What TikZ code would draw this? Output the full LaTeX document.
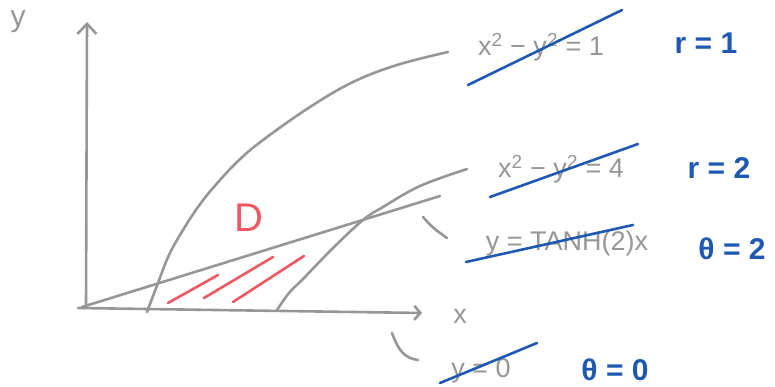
\documentclass[tikz,border=0pt]{standalone}
\usepackage{fontspec}
\setmainfont{Liberation Sans}
\usetikzlibrary{arrows.meta}

\definecolor{pencil}{RGB}{150,150,150}
\definecolor{ink}{RGB}{30,88,178}
\definecolor{redink}{RGB}{238,88,98}

\begin{document}
\begin{tikzpicture}[x=1pt, y=-1pt, line width=2.6pt, line cap=round, line join=round,
    sketch/.style={draw=pencil},
    strike/.style={draw=ink, line width=2.6pt},
    greytext/.style={text=pencil, inner sep=0pt, font=\fontsize{27}{32}\selectfont},
    bluetext/.style={text=ink, inner sep=0pt, font=\bfseries\fontsize{30}{36}\selectfont}]

  %% ════ axes ════
  \draw[sketch, -{Straight Barb[length=10pt,width=19pt]}] (86.0,308.0) -- (87.0,22.0);
  \draw[sketch, -{Straight Barb[length=6pt,width=14pt]}] (78.0,308.0) -- (422.0,313.0);
  \node[greytext, font=\fontsize{30}{36}\selectfont] (ylab) at (18.0,22.0) {y};
  \node[greytext] (xlab) at (460.0,316.0) {x};

  %% ════ curves ════
  % r = 1
  \draw[sketch] plot[smooth, tension=0.6] coordinates {
    (147.0,312.0) (158.0,283.0) (169.0,255.0) (183.0,230.0) (198.0,207.0)
    (213.0,188.0) (237.0,162.0) (263.0,140.0) (310.0,107.0) (353.0,82.0)
    (397.0,65.0) (448.0,52.0)};
  % r = 2
  \draw[sketch] plot[smooth, tension=0.6] coordinates {
    (277.0,310.0) (289.0,293.0) (303.0,279.0) (333.0,248.0) (363.0,220.0)
    (383.0,207.0) (420.0,186.0) (467.0,169.0)};
  % theta = 2
  \draw[sketch] (82.0,307.0) -- (440.0,196.0);

  % little pencil hooks at the labels
  \draw[sketch] (423.0,217.0) .. controls (433.0,228.0) .. (447.0,238.0);
  \draw[sketch] (392.0,333.0) .. controls (399.0,352.0) and (405.0,358.0) .. (418.0,360.0);

  %% ════ region D ════
  \node[text=redink, inner sep=0pt, font=\fontsize{40}{46}\selectfont] (dlab) at (249.0,218.0) {D};
  \foreach \ax/\ay/\bx/\by in {168/303/218/275, 204/298/273/257, 233/302/304/256}{
    \draw[draw=redink] (\ax,\ay) -- (\bx,\by);
  }

  %% ════ labels ════
  \node[greytext] (hypa) at (541.0,47.0) {x\textsuperscript{2} − y\textsuperscript{2} = 1};
  \node[greytext] (hypb) at (561.0,169.0) {x\textsuperscript{2} − y\textsuperscript{2} = 4};
  \node[greytext] (ray) at (567.0,244.0) {y = TANH(2)x};
  \node[greytext] (axis) at (481.0,371.0) {y = 0};

  % crossed out in blue
  \draw[strike] (468.0,85.0) -- (622.0,10.0);
  \draw[strike] (490.0,197.0) -- (638.0,144.0);
  \draw[strike] (466.0,262.0) -- (633.0,225.0);
  \draw[strike] (440.0,383.0) -- (537.0,343.0);

  \node[bluetext] (ra) at (706.0,43.0) {r = 1};
  \node[bluetext] (rb) at (719.0,168.0) {r = 2};
  \node[bluetext] (ta) at (732.0,249.0) {θ = 2};
  \node[bluetext] (tb) at (615.0,370.0) {θ = 0};

  \pgfresetboundingbox
  \path[use as bounding box] (0,0) rectangle (775,387);
\end{tikzpicture}
\end{document}
